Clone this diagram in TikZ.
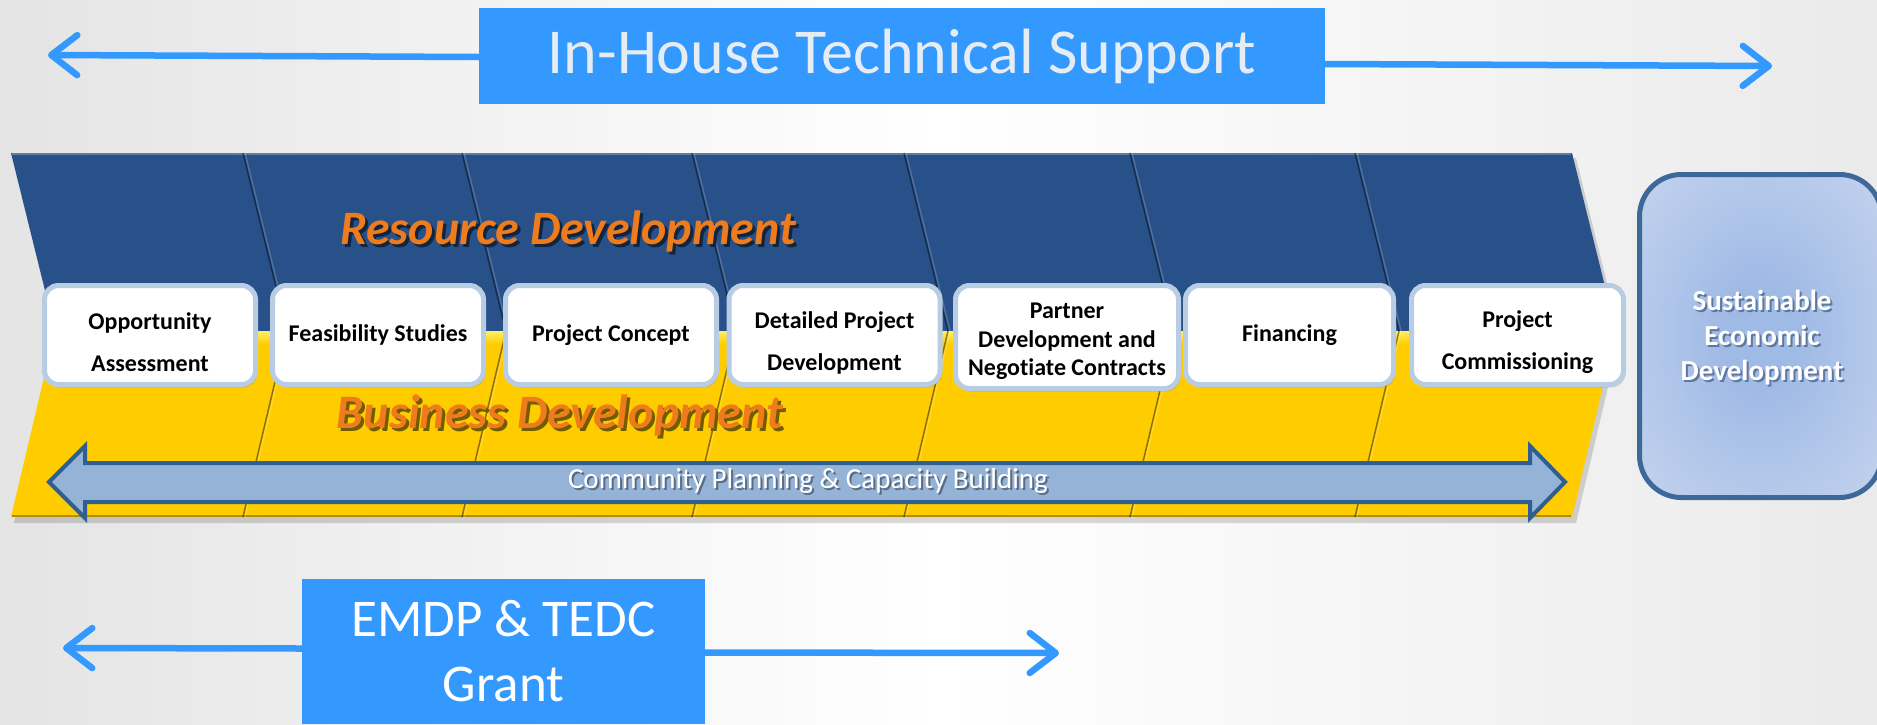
\documentclass[tikz,border=0pt]{standalone}
\usepackage{fontspec}
\setmainfont{Carlito}[Ligatures=CommonOff]
\usetikzlibrary{arrows.meta,shadows,calc}
\definecolor{supblue}{HTML}{3399FF}
\definecolor{suptext}{HTML}{E6ECF3}
\definecolor{bandblue}{HTML}{285189}
\definecolor{bandyellow}{HTML}{FFCC00}
\definecolor{yellowhi}{HTML}{FFF066}
\definecolor{boxborder}{HTML}{B8CCE4}
\definecolor{commfill}{HTML}{95B3D7}
\definecolor{commdraw}{HTML}{2F5E90}
\definecolor{sedborder}{HTML}{3D6899}
\definecolor{sedinner}{HTML}{A0BAE6}
\definecolor{sedouter}{HTML}{D6E0F1}
\definecolor{orangetxt}{HTML}{EE7B1C}
\definecolor{bgL}{HTML}{E4E4E4}
\definecolor{bgR}{HTML}{EAEAEA}
\colorlet{rdshadow}{black!55!bandblue}
\colorlet{bdshadow}{black!55!bandyellow}
\colorlet{cpshadow}{black!40!commfill}
\definecolor{sedshcol}{HTML}{5E77A0}
\pgfdeclareradialshading{sedshade}{\pgfpoint{0bp}{0bp}}{color(0bp)=(sedinner); color(8bp)=(sedinner); color(50bp)=(sedouter)}
\newcommand{\shtext}[3]{\makebox[0pt][l]{\hspace{#2}\raisebox{-#2}{\textcolor{#1}{#3}}}#3}
\newcommand{\mystrut}[1]{\rule{0pt}{#1}}
\begin{document}
\begin{tikzpicture}[x=1pt,y=-1pt,
  bluebox/.style={fill=supblue, text=suptext, inner sep=0pt, align=center},
  supportarrow/.style={draw=supblue, line width=6.5pt, line cap=round,
    -{Straight Barb[length=26pt,width=40pt,round]}},
  sepline/.style={draw=black, opacity=.45, line width=1.5pt},
  sephi/.style={draw=white, opacity=.18, line width=1.5pt},
  phase/.style={draw=boxborder, line width=5pt, fill=white, rounded corners=14pt,
    minimum width=211, minimum height=99, inner sep=0pt, align=center,
    font=\fontsize{24}{42}\selectfont\bfseries,
    drop shadow={shadow xshift=2pt,shadow yshift=-3pt,opacity=.25}},
  bandlabel/.style={text=orangetxt, font=\fontsize{48}{52}\selectfont\bfseries\itshape, inner sep=0pt},
  commarrow/.style={draw=commdraw, fill=commfill, line width=4pt, line join=miter},
  commtext/.style={text=white, font=\fontsize{29}{32}\selectfont, inner sep=0pt},
  sedbox/.style={draw=sedborder, line width=5pt, rounded corners=42pt, shade, shading=sedshade},
  sedtext/.style={text=white, align=center, font=\fontsize{29}{35}\selectfont\bfseries, inner sep=0pt}
]
% background
\useasboundingbox (0,0) rectangle (1877,724);
\shade[left color=bgL, right color=bgR, middle color=white] (0,0) rectangle (1877,724);

% top support
\node[bluebox, minimum width=846, minimum height=96, font=\fontsize{64}{70}\selectfont] (ihts) at (902,56) {\raisebox{-4pt}{In-House Technical Support}};
\coordinate (ihtsL) at (48,55);
\coordinate (ihtsR) at (1772,66);
\draw[supportarrow] ($(ihts.west)+(0,1)$) -- (ihtsL);
\draw[supportarrow] ($(ihts.east)+(0,8)$) -- (ihtsR);

% band shadow
\fill[black,opacity=.15] (14,158) -- (1576,158) -- (1620,336) -- (1576,523) -- (14,523) -- (58,336) -- cycle;
% band
\fill[bandblue] (11,153) -- (1572,153) -- (1616,331) -- (55,331) -- cycle;
\fill[bandyellow] (55,331) -- (1616,331) -- (1572,517) -- (11,517) -- cycle;
\shade[top color=yellowhi, bottom color=bandyellow] (55,331) -- (1616,331) -- (1613,344) -- (52,344) -- cycle;
\draw[draw=white, opacity=.25, line width=2pt] (12,154) -- (1571,154);
\draw[draw=black, opacity=.3, line width=2pt] (12,516) -- (1571,516);
\foreach \x in {243,462,692,904,1130,1355} {
  \draw[sepline] (\x,153) -- (\x+44,331) -- (\x,517);
  \draw[sephi] (\x+2,153) -- (\x+46,331) -- (\x+2,517);
}

% band labels
\node[bandlabel] (rd) at (568,233) {\shtext{rdshadow}{3pt}{Resource Development}};
\node[bandlabel] (bd) at (560,417) {\shtext{bdshadow}{3pt}{Business Development}};

% community arrow
\draw[commarrow] (49,482) -- (85,446) -- (85,463) -- (1530,463) -- (1530,446) -- (1565,482)
  -- (1530,518) -- (1530,502) -- (85,502) -- (85,518) -- cycle;
\node[commtext] (cpcb) at (808,482) {\shtext{cpshadow}{2pt}{Community Planning \& Capacity Building}};

% phase boxes
\node[phase] (p1) at (150,335) {\mystrut{32pt}Opportunity\\Assessment};
\node[phase] (p2) at (378,335) {Feasibility Studies};
\node[phase] (p3) at (611,335) {Project Concept};
\node[phase] (p4) at (834.5,335) {\mystrut{32pt}Detailed Project\\Development};
\node[phase, minimum width=223, minimum height=103, font=\fontsize{24}{28.5}\selectfont\bfseries] (p5) at (1067,337) {\mystrut{25pt}Partner\\Development and\\Negotiate Contracts};
\node[phase, minimum width=208] (p6) at (1289.5,335) {Financing};
\node[phase, minimum width=212] (p7) at (1517.5,335) {\mystrut{32pt}Project\\Commissioning};

% sustainable economic development
\node[sedbox, minimum width=242, minimum height=323] (sed) at (1760.5,336) {};
\node[sedtext] (sedt) at (1762,339) {\shtext{sedshcol}{2pt}{Sustainable}\\\shtext{sedshcol}{2pt}{Economic}\\\shtext{sedshcol}{2pt}{Development}};

% bottom grant
\node[bluebox, text=white, minimum width=403, minimum height=145, font=\fontsize{53}{65}\selectfont] (emdp) at (503.5,651.5) {EMDP \& TEDC\\Grant};
\coordinate (emdpL) at (63,648);
\coordinate (emdpR) at (1059,653);
\draw[supportarrow] ($(emdp.west)+(0,-3)$) -- (emdpL);
\draw[supportarrow] ($(emdp.east)+(0,1)$) -- (emdpR);
\end{tikzpicture}
\end{document}
